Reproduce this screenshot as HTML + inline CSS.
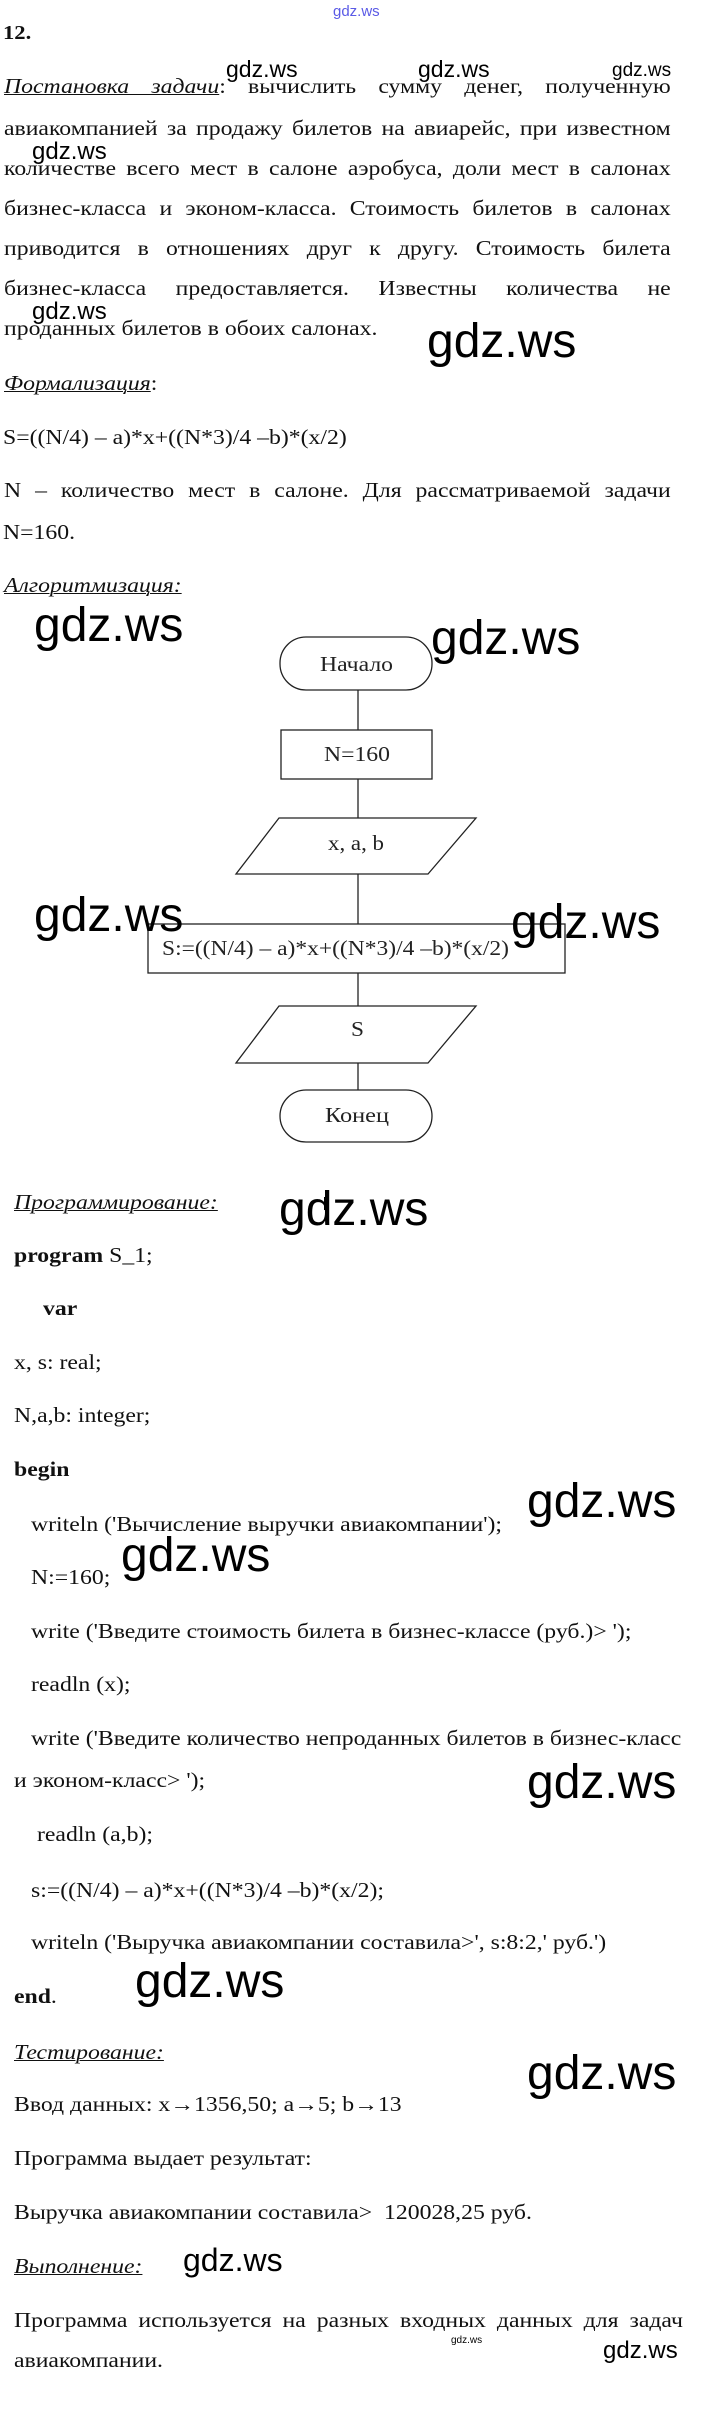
<!DOCTYPE html>
<html><head><meta charset="utf-8"><style>
body{margin:0;background:#fff;}
#p{position:relative;width:712px;height:2429px;overflow:hidden;background:#fff;font-family:"Liberation Serif","DejaVu Serif",serif;font-size:21px;color:#111;}
.t{position:absolute;white-space:nowrap;line-height:21px;height:21px;transform:scaleX(1.13);transform-origin:0 0;}
.j{position:absolute;left:4px;width:590px;line-height:21px;height:21px;text-align:justify;text-align-last:justify;white-space:nowrap;transform:scaleX(1.13);transform-origin:0 0;}
.h{font-style:italic;text-decoration:underline;text-decoration-thickness:1px;}
.w{position:absolute;font-family:"Liberation Sans","DejaVu Sans",sans-serif;color:#000;line-height:1;white-space:nowrap;}
</style></head><body><div id="p">
<div class="w" style="left:333px;top:4px;font-size:15px;color:#5a5ae6">gdz.ws</div>
<div class="t" style="left:3px;top:23px;font-weight:bold;font-size:20px">12.</div>

<div class="j" style="top:76px"><span class="h">Постановка задачи</span>: вычислить сумму денег, полученную</div>
<div class="j" style="top:118px">авиакомпанией за продажу билетов на авиарейс, при известном</div>
<div class="j" style="top:158px">количестве всего мест в салоне аэробуса, доли мест в салонах</div>
<div class="j" style="top:198px">бизнес-класса и эконом-класса. Стоимость билетов в салонах</div>
<div class="j" style="top:238px">приводится в отношениях друг к другу. Стоимость билета</div>
<div class="j" style="top:278px">бизнес-класса предоставляется. Известны количества не</div>
<div class="t" style="left:4px;top:318px">проданных билетов в обоих салонах.</div>
<div class="t" style="left:4px;top:373px"><span class="h">Формализация</span>:</div>
<div class="t" style="left:3px;top:427px">S=((N/4) – a)*x+((N*3)/4 –b)*(x/2)</div>
<div class="j" style="top:480px">N – количество мест в салоне. Для рассматриваемой задачи</div>
<div class="t" style="left:3px;top:522px">N=160.</div>
<div class="t" style="left:4px;top:575px"><span class="h">Алгоритмизация:</span></div>

<svg style="position:absolute;left:0;top:0" width="712" height="2429">
<g fill="none" stroke="#222" stroke-width="1.3">
<rect x="280" y="637" width="152" height="53" rx="26" ry="26"/>
<line x1="358" y1="690" x2="358" y2="730"/>
<rect x="281" y="730" width="151" height="49"/>
<line x1="358" y1="779" x2="358" y2="818"/>
<polygon points="279,818 476,818 428,874 236,874"/>
<line x1="358" y1="874" x2="358" y2="924"/>
<rect x="148" y="924" width="417" height="49"/>
<line x1="358" y1="973" x2="358" y2="1006"/>
<polygon points="279,1006 476,1006 428,1063 236,1063"/>
<line x1="358" y1="1063" x2="358" y2="1090"/>
<rect x="280" y="1090" width="152" height="52" rx="26" ry="26"/>
</g>
<g font-family="Liberation Serif, serif" font-size="21" fill="#222" lengthAdjust="spacingAndGlyphs">
<text x="320" y="671" textLength="73" lengthAdjust="spacingAndGlyphs">Начало</text>
<text x="324" y="761" textLength="66" lengthAdjust="spacingAndGlyphs">N=160</text>
<text x="328" y="850" textLength="56" lengthAdjust="spacingAndGlyphs">x, a, b</text>
<text x="162" y="955" textLength="347" lengthAdjust="spacingAndGlyphs">S:=((N/4) – a)*x+((N*3)/4 –b)*(x/2)</text>
<text x="351" y="1036" textLength="13" lengthAdjust="spacingAndGlyphs">S</text>
<text x="325" y="1122" textLength="64" lengthAdjust="spacingAndGlyphs">Конец</text>
</g>
<line x1="325" y1="1197" x2="325" y2="1210" stroke="#000" stroke-width="2"/>
</svg>

<div class="t" style="left:14px;top:1192px"><span class="h">Программирование:</span></div>
<div class="t" style="left:14px;top:1245px"><b>program</b> S_1;</div>
<div class="t" style="left:43px;top:1298px"><b>var</b></div>
<div class="t" style="left:14px;top:1352px">x, s: real;</div>
<div class="t" style="left:14px;top:1405px">N,a,b: integer;</div>
<div class="t" style="left:14px;top:1459px"><b>begin</b></div>
<div class="t" style="left:31px;top:1514px">writeln ('Вычисление выручки авиакомпании');</div>
<div class="t" style="left:31px;top:1567px">N:=160;</div>
<div class="t" style="left:31px;top:1621px">write ('Введите стоимость билета в бизнес-классе (руб.)&gt; ');</div>
<div class="t" style="left:31px;top:1674px">readln (x);</div>
<div class="t" style="left:31px;top:1728px">write ('Введите количество непроданных билетов в бизнес-класс</div>
<div class="t" style="left:14px;top:1770px">и эконом-класс&gt; ');</div>
<div class="t" style="left:37px;top:1824px">readln (a,b);</div>
<div class="t" style="left:31px;top:1880px">s:=((N/4) – a)*x+((N*3)/4 –b)*(x/2);</div>
<div class="t" style="left:31px;top:1932px">writeln ('Выручка авиакомпании составила&gt;', s:8:2,' руб.')</div>
<div class="t" style="left:14px;top:1986px"><b>end</b>.</div>
<div class="t" style="left:14px;top:2042px"><span class="h">Тестирование:</span></div>
<div class="t" style="left:14px;top:2094px">Ввод данных: x→1356,50; a→5; b→13</div>
<div class="t" style="left:14px;top:2148px">Программа выдает результат:</div>
<div class="t" style="left:14px;top:2202px">Выручка авиакомпании составила&gt;&nbsp; 120028,25 руб.</div>
<div class="t" style="left:14px;top:2256px"><span class="h">Выполнение:</span></div>
<div class="j" style="left:14px;width:592px;top:2310px">Программа используется на разных входных данных для задач</div>
<div class="t" style="left:14px;top:2350px">авиакомпании.</div>

<div class="w" style="left:226px;top:58px;font-size:23px">gdz.ws</div>
<div class="w" style="left:418px;top:58px;font-size:23px">gdz.ws</div>
<div class="w" style="left:612px;top:61px;font-size:19px">gdz.ws</div>
<div class="w" style="left:32px;top:140px;font-size:24px">gdz.ws</div>
<div class="w" style="left:32px;top:300px;font-size:24px">gdz.ws</div>
<div class="w" style="left:427px;top:318px;font-size:48px">gdz.ws</div>
<div class="w" style="left:34px;top:602px;font-size:48px">gdz.ws</div>
<div class="w" style="left:431px;top:615px;font-size:48px">gdz.ws</div>
<div class="w" style="left:34px;top:892px;font-size:48px">gdz.ws</div>
<div class="w" style="left:511px;top:899px;font-size:48px">gdz.ws</div>
<div class="w" style="left:279px;top:1186px;font-size:48px">gdz.ws</div>
<div class="w" style="left:527px;top:1478px;font-size:48px">gdz.ws</div>
<div class="w" style="left:121px;top:1532px;font-size:48px">gdz.ws</div>
<div class="w" style="left:527px;top:1759px;font-size:48px">gdz.ws</div>
<div class="w" style="left:135px;top:1958px;font-size:48px">gdz.ws</div>
<div class="w" style="left:527px;top:2050px;font-size:48px">gdz.ws</div>
<div class="w" style="left:183px;top:2244px;font-size:32px">gdz.ws</div>
<div class="w" style="left:451px;top:2336px;font-size:10px">gdz.ws</div>
<div class="w" style="left:603px;top:2339px;font-size:24px">gdz.ws</div>
</div></body></html>
